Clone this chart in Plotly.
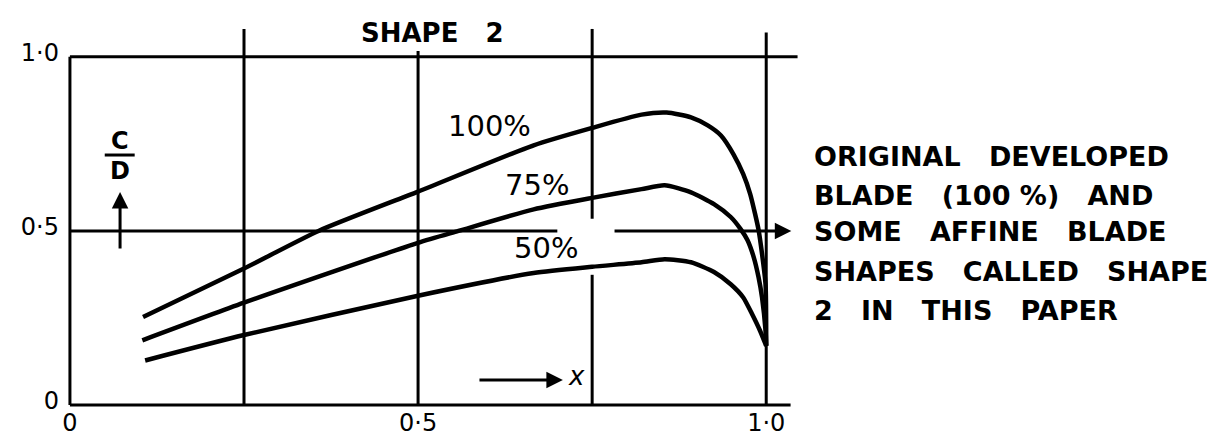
import plotly.graph_objects as go

# Chord ratio c/D against radius x for the developed blade and two affine versions
x_100 = [0.105, 0.25, 0.357, 0.5, 0.666, 0.75, 0.821, 0.857, 0.892, 0.916, 0.935, 0.953,
         0.967, 0.977, 0.984, 0.989, 0.994, 0.999, 1.0]
y_100 = [0.253, 0.392, 0.500, 0.613, 0.746, 0.796, 0.834, 0.840, 0.826, 0.803, 0.774, 0.720,
         0.663, 0.606, 0.549, 0.503, 0.434, 0.347, 0.17]

x_75 = [0.104, 0.25, 0.5, 0.558, 0.666, 0.75, 0.821, 0.854, 0.892, 0.925, 0.949, 0.963,
        0.973, 0.982, 0.989, 0.994, 0.999, 1.0]
y_75 = [0.186, 0.294, 0.466, 0.500, 0.562, 0.595, 0.620, 0.631, 0.611, 0.577, 0.540, 0.506,
        0.474, 0.425, 0.367, 0.309, 0.214, 0.17]

x_50 = [0.108, 0.25, 0.5, 0.666, 0.75, 0.821, 0.854, 0.892, 0.925, 0.949, 0.967, 0.980,
        0.991, 1.0]
y_50 = [0.128, 0.201, 0.314, 0.379, 0.397, 0.410, 0.419, 0.410, 0.382, 0.347, 0.309, 0.260,
        0.214, 0.17]

series_labels = ["100%", "75%", "50%"]

x_tick_vals = [0, 0.5, 1.0]
x_tick_text = ["0", "0·5", "1·0"]
y_tick_vals = [0, 0.5, 1.0]
y_tick_text = ["0", "0·5", "1·0"]
grid_x = [0.25, 0.5, 0.75, 1.0]

note_lines = [
    "ORIGINAL   DEVELOPED",
    "BLADE   (100 %)   AND",
    "SOME   AFFINE   BLADE",
    "SHAPES   CALLED   SHAPE",
    "2   IN   THIS   PAPER",
]

INK = "black"
FONT = "DejaVu Sans"

fig = go.Figure()

for xs, ys, name in zip([x_100, x_75, x_50], [y_100, y_75, y_50], series_labels):
    fig.add_trace(go.Scatter(
        x=xs, y=ys, mode="lines", name=name,
        line=dict(color=INK, width=4.5, shape="spline", smoothing=0.6),
        showlegend=False, hoverinfo="skip",
    ))

def seg(x0, y0, x1, y1, w=3):
    fig.add_shape(type="line", xref="x", yref="y", x0=x0, y0=y0, x1=x1, y1=y1,
                  line=dict(color=INK, width=w), layer="above")

# frame: left edge, base line, top line
seg(0, 0, 0, 1.0)
seg(0, 0, 1.035, 0)
seg(0, 1.0, 1.045, 1.0)

# vertical grid lines (some pass above the top line)
seg(grid_x[0], 0, grid_x[0], 1.08)
seg(grid_x[1], 0, grid_x[1], 1.017)
seg(grid_x[2], 0, grid_x[2], 0.374)
seg(grid_x[2], 0.535, grid_x[2], 1.08)
seg(grid_x[3], 0, grid_x[3], 1.07)

# half-way line, broken around the labels
seg(0, 0.5, 0.70, 0.5)

def arrow(x0, y0, x1, y1):
    fig.add_annotation(x=x1, y=y1, ax=x0, ay=y0, xref="x", yref="y", axref="x", ayref="y",
                       text="", showarrow=True, arrowhead=2, arrowsize=1.1,
                       arrowwidth=3, arrowcolor=INK, standoff=0)

arrow(0.78, 0.5, 1.036, 0.5)
arrow(0.586, 0.072, 0.708, 0.072)
arrow(0.072, 0.445, 0.072, 0.612)

# axis name c/D as a stacked fraction
fig.add_annotation(x=0.072, y=0.757, xref="x", yref="y", text="<b>C</b>", showarrow=False,
                   font=dict(family=FONT, size=24, color=INK))
seg(0.050, 0.718, 0.093, 0.718, w=3)
fig.add_annotation(x=0.072, y=0.672, xref="x", yref="y", text="<b>D</b>", showarrow=False,
                   font=dict(family=FONT, size=24, color=INK))
fig.add_annotation(x=0.728, y=0.082, xref="x", yref="y", text="<i>x</i>", showarrow=False,
                   font=dict(family=FONT, size=26, color=INK))

# curve labels
label_pos = [(0.603, 0.80), (0.671, 0.633), (0.683, 0.45)]
for (lx, ly), txt in zip(label_pos, series_labels):
    fig.add_annotation(x=lx, y=ly, xref="x", yref="y", text=txt, showarrow=False,
                       font=dict(family=FONT, size=29, color=INK))

fig.add_annotation(x=0.52, y=1.069, xref="x", yref="y", text="<b>SHAPE\u00a0\u00a0\u00a02</b>",
                   showarrow=False, font=dict(family=FONT, size=26, color=INK))

# explanatory note to the right of the chart
note_y = [0.654, 0.556, 0.464, 0.359, 0.259]
for line, ny in zip(note_lines, note_y):
    fig.add_annotation(x=1.0053, y=ny, xref="paper", yref="paper",
                       xanchor="left", yanchor="middle",
                       text="<b>" + line.replace("   ", "\u00a0\u00a0\u00a0") + "</b>",
                       showarrow=False, font=dict(family=FONT, size=27, color=INK))

fig.update_layout(
    width=1215, height=438,
    margin=dict(l=56, r=407, t=22, b=26, autoexpand=False),
    paper_bgcolor="white", plot_bgcolor="white",
    xaxis=dict(range=[-0.02, 1.06], showgrid=False, zeroline=False, showline=False,
               tickvals=x_tick_vals, ticktext=x_tick_text, ticks="",
               tickfont=dict(family=FONT, size=24, color=INK), automargin=False,
               ticklabelstandoff=-6),
    yaxis=dict(range=[-0.02, 1.1], showgrid=False, zeroline=False, showline=False,
               tickvals=y_tick_vals, ticktext=y_tick_text, ticks="",
               tickfont=dict(family=FONT, size=24, color=INK), automargin=False,
               ticklabelstandoff=-4, ticklabelshift=-4),
)

fig.write_html("out.html")
